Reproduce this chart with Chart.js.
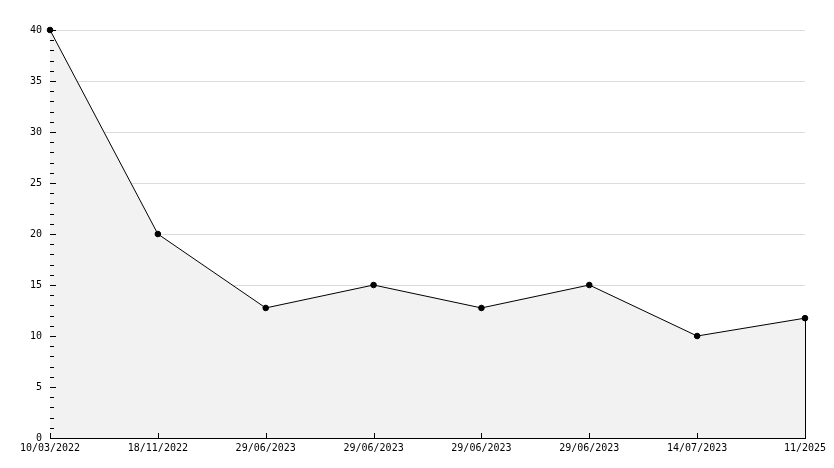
<!DOCTYPE html>
<html lang="en">
<head>
    <meta charset="UTF-8">
    <title>Line Chart</title>
    <script src="https://cdn.jsdelivr.net/npm/chart.js"></script>
    <style>
        html, body { margin: 0; padding: 0; background: #fff; }
        #wrap { width: 834px; height: 468px; }
    </style>
</head>
<body>
    <div id="wrap"><canvas id="lineChart"></canvas></div>

    <script>
        const dateLabels = ['10/03/2022', '18/11/2022', '29/06/2023', '29/06/2023', '29/06/2023', '29/06/2023', '14/07/2023', '11/2025'];
        const values = [40, 20, 12.75, 15, 12.75, 15, 10, 11.75];
        const yTicks = [0, 5, 10, 15, 20, 25, 30, 35, 40];

        const monoFont = { family: '"DejaVu Sans Mono", monospace', size: 10 };

        // ticks drawn inside the plot area, plus the right edge of the fill
        const innerTicks = {
            id: 'innerTicks',
            afterDatasetsDraw(chart) {
                const ctx = chart.ctx;
                const x = chart.scales.x, y = chart.scales.y;
                const area = chart.chartArea;
                ctx.save();
                ctx.strokeStyle = '#000';
                ctx.lineWidth = 1;
                ctx.beginPath();
                for (let v = 0; v <= 40; v++) {
                    const py = Math.round(y.getPixelForValue(v)) + 0.5;
                    const len = v % 5 === 0 ? 6 : 4;
                    ctx.moveTo(area.left, py);
                    ctx.lineTo(area.left + len, py);
                }
                for (let i = 0; i < dateLabels.length; i++) {
                    const px = Math.round(x.getPixelForValue(i)) + 0.5;
                    ctx.moveTo(px, area.bottom);
                    ctx.lineTo(px, area.bottom - 5);
                }
                const last = values.length - 1;
                const lx = Math.round(x.getPixelForValue(last)) + 0.5;
                ctx.moveTo(lx, y.getPixelForValue(values[last]));
                ctx.lineTo(lx, area.bottom);
                ctx.stroke();
                ctx.restore();
            }
        };

        new Chart(document.getElementById('lineChart'), {
            type: 'line',
            data: {
                labels: dateLabels,
                datasets: [{
                    data: values,
                    borderColor: '#000',
                    borderWidth: 1,
                    fill: 'origin',
                    backgroundColor: '#f2f2f2',
                    pointBackgroundColor: '#000',
                    pointBorderColor: '#000',
                    pointRadius: 2.8,
                    pointBorderWidth: 1,
                    tension: 0,
                    clip: false
                }]
            },
            options: {
                responsive: true,
                maintainAspectRatio: false,
                animation: false,
                layout: { padding: { top: 30, right: 29, left: 0, bottom: 0 } },
                plugins: {
                    legend: { display: false },
                    tooltip: { enabled: false }
                },
                scales: {
                    x: {
                        offset: false,
                        afterFit(s) { s.height = 30; },
                        grid: { display: false, drawTicks: false },
                        border: { color: '#000', width: 1 },
                        ticks: {
                            color: '#000',
                            font: monoFont,
                            padding: 4,
                            autoSkip: false,
                            maxRotation: 0
                        }
                    },
                    y: {
                        min: 0,
                        max: 40,
                        afterFit(s) { s.width = 50; },
                        afterBuildTicks(s) { s.ticks = yTicks.map(v => ({ value: v })); },
                        grid: {
                            drawTicks: false,
                            color: ctx => ctx.tick && ctx.tick.value === 0 ? 'rgba(0,0,0,0)' : '#dcdcdc'
                        },
                        border: { color: '#000', width: 1 },
                        ticks: {
                            color: '#000',
                            font: monoFont,
                            padding: 8
                        }
                    }
                }
            },
            plugins: [innerTicks]
        });
    </script>
</body>
</html>
